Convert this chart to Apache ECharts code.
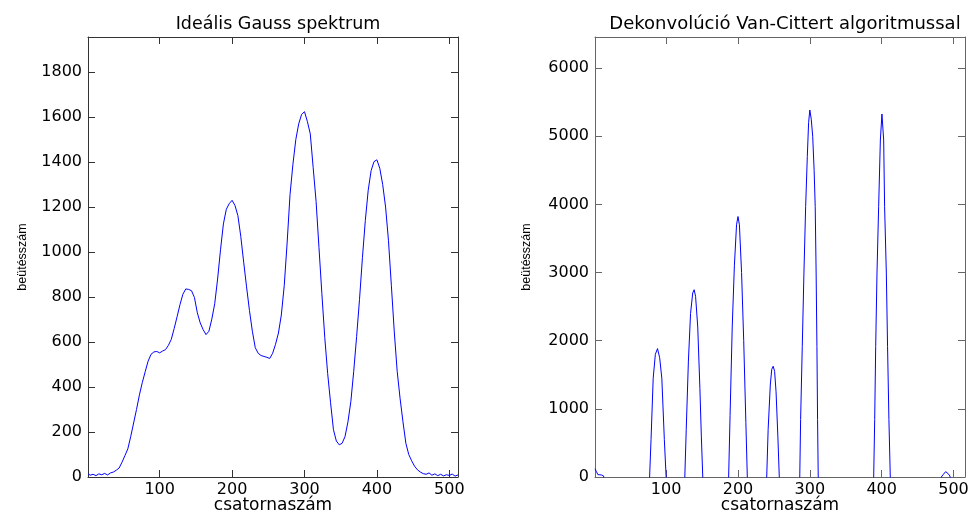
<!DOCTYPE html>
<html>
<head>
<meta charset="utf-8">
<script src="https://cdn.jsdelivr.net/npm/echarts@6/dist/echarts.min.js"></script>
<style>html,body{margin:0;padding:0;background:#fff;}#c{width:973px;height:512px;}</style>
</head>
<body>
<div id="c"></div>
<script>
const leftTitle = 'Ideális Gauss spektrum';
const rightTitle = 'Dekonvolúció Van-Cittert algoritmussal';
const xName = 'csatornaszám';
const yName = 'beütésszám';

const xTicks = [100, 200, 300, 400, 500];
const leftYTicks = [0, 200, 400, 600, 800, 1000, 1200, 1400, 1600, 1800];
const rightYTicks = [0, 1000, 2000, 3000, 4000, 5000, 6000];

const leftCh = [1,4,8,12,16,20,24,28,32,36,40,44,48,52,56,60,64,68,72,76,80,84,88,92,96,100,104,108,112,116,120,124,128,132,136,140,144,148,152,156,160,164,168,172,176,180,184,188,192,196,200,204,208,212,216,220,224,228,232,236,240,244,248,252,256,260,264,268,272,276,280,284,288,292,296,300,304,308,312,316,320,324,328,332,336,340,344,348,352,356,360,364,368,372,376,380,384,388,392,396,400,404,408,412,416,420,424,428,432,436,440,444,448,452,456,460,464,468,472,476,480,484,488,492,496,500,504,508,512];
const leftVal = [14,8,12,6,14,10,16,9,18,22,30,40,66,95,125,180,240,300,365,420,468,515,545,556,558,552,560,566,585,612,660,712,766,812,836,834,828,798,730,685,655,633,648,702,770,880,1010,1125,1190,1215,1230,1207,1162,1070,955,845,740,648,575,550,540,536,532,527,550,590,640,720,850,1040,1255,1390,1500,1570,1612,1624,1580,1525,1375,1225,1020,815,620,460,330,210,160,143,150,180,245,335,470,625,790,975,1140,1275,1362,1402,1410,1372,1300,1200,1050,850,645,470,350,245,150,100,72,48,32,22,15,12,18,8,14,6,12,5,10,7,13,4,9];

const rightCh = [1,3,5,7,10,13,16,
  74,77,79,82,85,88,91,94,97.5,100,103,
  123,126,128,131,134,137,139,141,144,147,149,151,154,
  184,187,189,192,195,198,200,202,205,208,211,213,216,
  237,240,242,245,247,249,251,253,255.5,257.5,260,
  283,286,287.2,289.5,291.8,294.2,296.5,298.3,300,302,304,306,307.5,308.8,309.9,310.8,311.7,314,
  386,388.9,390.3,391.7,393.5,395.8,398.2,400.4,402.8,404.1,406.5,408.2,410.1,412,415,
  480,483,486,489,492,495,497,500,512];
const rightVal = [120,80,35,25,30,15,-300,
  -600,0,550,1450,1800,1884,1750,1450,550,0,-600,
  -600,0,700,1700,2400,2700,2748,2650,2200,1300,600,0,-600,
  -700,0,900,2200,3100,3700,3822,3700,3000,2000,800,0,-700,
  -500,0,700,1350,1580,1625,1550,1250,600,0,-500,
  -900,0,843,1917,2992,3968,4700,5200,5384,5250,5000,4500,3968,2992,1917,843,0,-900,
  -900,0,843,1917,2992,3968,4945,5326,4945,3968,2992,1917,843,0,-900,
  -200,0,40,78,55,15,0,-200,-200];

const FONT = 'DejaVu Sans';
const leftData = leftCh.map((c, i) => [c, leftVal[i]]);
const rightData = rightCh.map((c, i) => [c, rightVal[i]]);
const plain = v => String(v);

function xAxes(gi, max, color) {
  return [
    { type: 'value', gridIndex: gi, position: 'bottom', min: 1, max: max,
      name: xName, nameLocation: 'middle', nameGap: 20, nameMoveOverlap: false,
      nameTextStyle: { fontFamily: FONT, fontSize: 17, color: '#000', verticalAlign: 'top' },
      axisLine: { show: true, onZero: false, lineStyle: { color: color, width: 1 } },
      axisTick: { show: true, inside: true, length: 7, customValues: xTicks, lineStyle: { color: color } },
      axisLabel: { customValues: xTicks, formatter: plain, fontFamily: FONT, fontSize: 16, color: '#000', margin: 5 },
      splitLine: { show: false } },
    { type: 'value', gridIndex: gi, position: 'top', min: 1, max: max,
      axisLine: { show: true, onZero: false, lineStyle: { color: color, width: 1 } },
      axisTick: { show: true, inside: true, length: 7, customValues: xTicks, lineStyle: { color: color } },
      axisLabel: { show: false }, splitLine: { show: false } }
  ];
}
function yAxes(gi, max, ticks, color, gap) {
  return [
    { type: 'value', gridIndex: gi, position: 'left', min: 0, max: max,
      name: yName, nameLocation: 'middle', nameRotate: 90, nameGap: gap, nameMoveOverlap: false,
      nameTextStyle: { fontFamily: 'Liberation Sans', fontSize: 12.5, color: '#000' },
      axisLine: { show: true, onZero: false, lineStyle: { color: color, width: 1 } },
      axisTick: { show: true, inside: true, length: 7, customValues: ticks, lineStyle: { color: color } },
      axisLabel: { customValues: ticks, formatter: plain, fontFamily: FONT, fontSize: 16, color: '#000', margin: 6 },
      splitLine: { show: false } },
    { type: 'value', gridIndex: gi, position: 'right', min: 0, max: max,
      axisLine: { show: true, onZero: false, lineStyle: { color: color, width: 1 } },
      axisTick: { show: true, inside: true, length: 7, customValues: ticks, lineStyle: { color: color } },
      axisLabel: { show: false }, splitLine: { show: false } }
  ];
}

const chart = echarts.init(document.getElementById('c'), null, { renderer: 'canvas' });
chart.setOption({
  backgroundColor: '#fff',
  animation: false,
  title: [
    { text: leftTitle, left: 273, top: 10, textAlign: 'center',
      textStyle: { fontFamily: FONT, fontSize: 17.5, fontWeight: 'normal', color: '#000' } },
    { text: rightTitle, left: 780, top: 10, textAlign: 'center',
      textStyle: { fontFamily: FONT, fontSize: 18, fontWeight: 'normal', color: '#000' } }
  ],
  grid: [
    { left: 88, top: 37, width: 370, height: 440, outerBoundsMode: 'none', containLabel: false },
    { left: 595, top: 37, width: 370, height: 440, outerBoundsMode: 'none', containLabel: false }
  ],
  xAxis: [...xAxes(0, 512, '#333'), ...xAxes(1, 516, '#666')],
  yAxis: [...yAxes(0, 1956, leftYTicks, '#333', 59), ...yAxes(1, 6456, rightYTicks, '#666', 62)],
  series: [
    { type: 'line', xAxisIndex: 0, yAxisIndex: 0, data: leftData, showSymbol: false, symbol: 'none',
      clip: true, lineStyle: { color: '#0000ff', width: 1 } },
    { type: 'line', xAxisIndex: 2, yAxisIndex: 2, data: rightData, showSymbol: false, symbol: 'none',
      clip: true, lineStyle: { color: '#0000ff', width: 1 } }
  ]
});
</script>
</body>
</html>
